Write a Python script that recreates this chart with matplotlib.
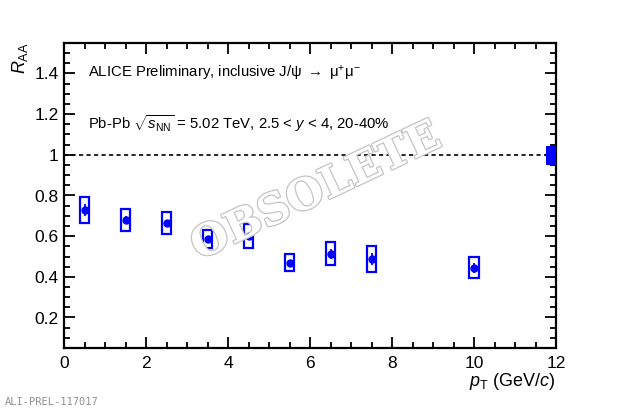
import numpy as np
import matplotlib
matplotlib.use('Agg')
import matplotlib.pyplot as plt
from matplotlib.patches import Rectangle
from matplotlib.ticker import MultipleLocator, FuncFormatter
import matplotlib.patheffects as pe

plt.rcParams['font.family'] = ['Liberation Sans', 'DejaVu Sans']
plt.rcParams['mathtext.fontset'] = 'custom'
plt.rcParams['mathtext.rm'] = 'Liberation Sans'
plt.rcParams['mathtext.it'] = 'Liberation Sans:italic'
plt.rcParams['mathtext.bf'] = 'Liberation Sans:bold'

# J/psi RAA vs pT, Pb-Pb 5.02 TeV, 20-40%
pt = [0.5, 1.5, 2.5, 3.5, 4.5, 5.5, 6.5, 7.5, 10.0]
raa = [0.729, 0.680, 0.664, 0.586, 0.600, 0.470, 0.514, 0.489, 0.445]
stat = [0.030, 0.020, 0.015, 0.012, 0.012, 0.015, 0.025, 0.030, 0.025]
syst = [0.064, 0.055, 0.053, 0.045, 0.059, 0.043, 0.055, 0.065, 0.053]
global_syst = 0.043

blue = '#0000ff'
box_hw = 0.12

fig = plt.figure(figsize=(6.2, 4.12), dpi=100)
ax = fig.add_axes([64/620, 1-348/412, (556-64)/620, (348-43)/412])

ax.axhline(1.0, color='black', ls=(0, (2.5, 2)), lw=1.2, zorder=1)

for x, y, s in zip(pt, raa, syst):
    ax.add_patch(Rectangle((x-box_hw, y-s), 2*box_hw, 2*s, fill=False,
                           ec=blue, lw=1.6, zorder=2))
ax.errorbar(pt, raa, yerr=stat, fmt='o', color=blue, ms=5, elinewidth=1.3,
            capsize=0, zorder=3)

ax.add_patch(Rectangle((11.75, 1-global_syst), 0.25, 2*global_syst,
                       fc=blue, ec=blue, lw=0.8, zorder=3))

ax.set_xlim(0, 12)
ax.set_ylim(0.05, 1.55)
ax.xaxis.set_major_locator(MultipleLocator(2))
ax.xaxis.set_minor_locator(MultipleLocator(0.5))
ax.yaxis.set_major_locator(MultipleLocator(0.2))
ax.yaxis.set_minor_locator(MultipleLocator(0.05))
ax.yaxis.set_major_formatter(FuncFormatter(lambda v, p: '%g' % round(v, 2)))
ax.tick_params(which='both', direction='in', top=True, right=True,
               labelsize=12.5, width=1.3, pad=6)
ax.tick_params(which='major', length=8)
ax.tick_params(which='minor', length=4)
ax.tick_params(axis='y', pad=4)
for sp in ax.spines.values():
    sp.set_linewidth(1.6)

ax.text(0.585, 1.4, r'ALICE Preliminary, inclusive J/ψ $\rightarrow$ $\mathrm{μ}^{+}\mathrm{μ}^{-}$',
        fontsize=10.7, va='center', ha='left')
ax.text(0.585, 1.153, r'Pb-Pb $\sqrt{s_{\mathrm{NN}}}$ = 5.02 TeV, 2.5 < $y$ < 4, 20-40%',
        fontsize=10.7, va='center', ha='left')

fig.text(556/620, 1-381/412, r'$p_{\mathrm{T}}$ (GeV/$c$)', fontsize=13,
         ha='right', va='center')
fig.text(20/620, 1-42/412, r'$R_{\mathrm{AA}}$', fontsize=13, rotation=90,
         ha='center', va='top')

fig.text(5/620, 1-402/412, 'ALI-PREL-117017', fontsize=7.5, color='#909090',
         family='DejaVu Sans Mono', ha='left', va='center')

fig.text(316/620, 1-192/412, 'OBSOLETE', fontsize=31, rotation=25.2,
         family='DejaVu Serif', weight='bold', color='white',
         ha='center', va='center', zorder=10,
         path_effects=[pe.Stroke(linewidth=1.8, foreground='#c4c4c4'), pe.Normal()])

fig.savefig('out.png', dpi=100)
